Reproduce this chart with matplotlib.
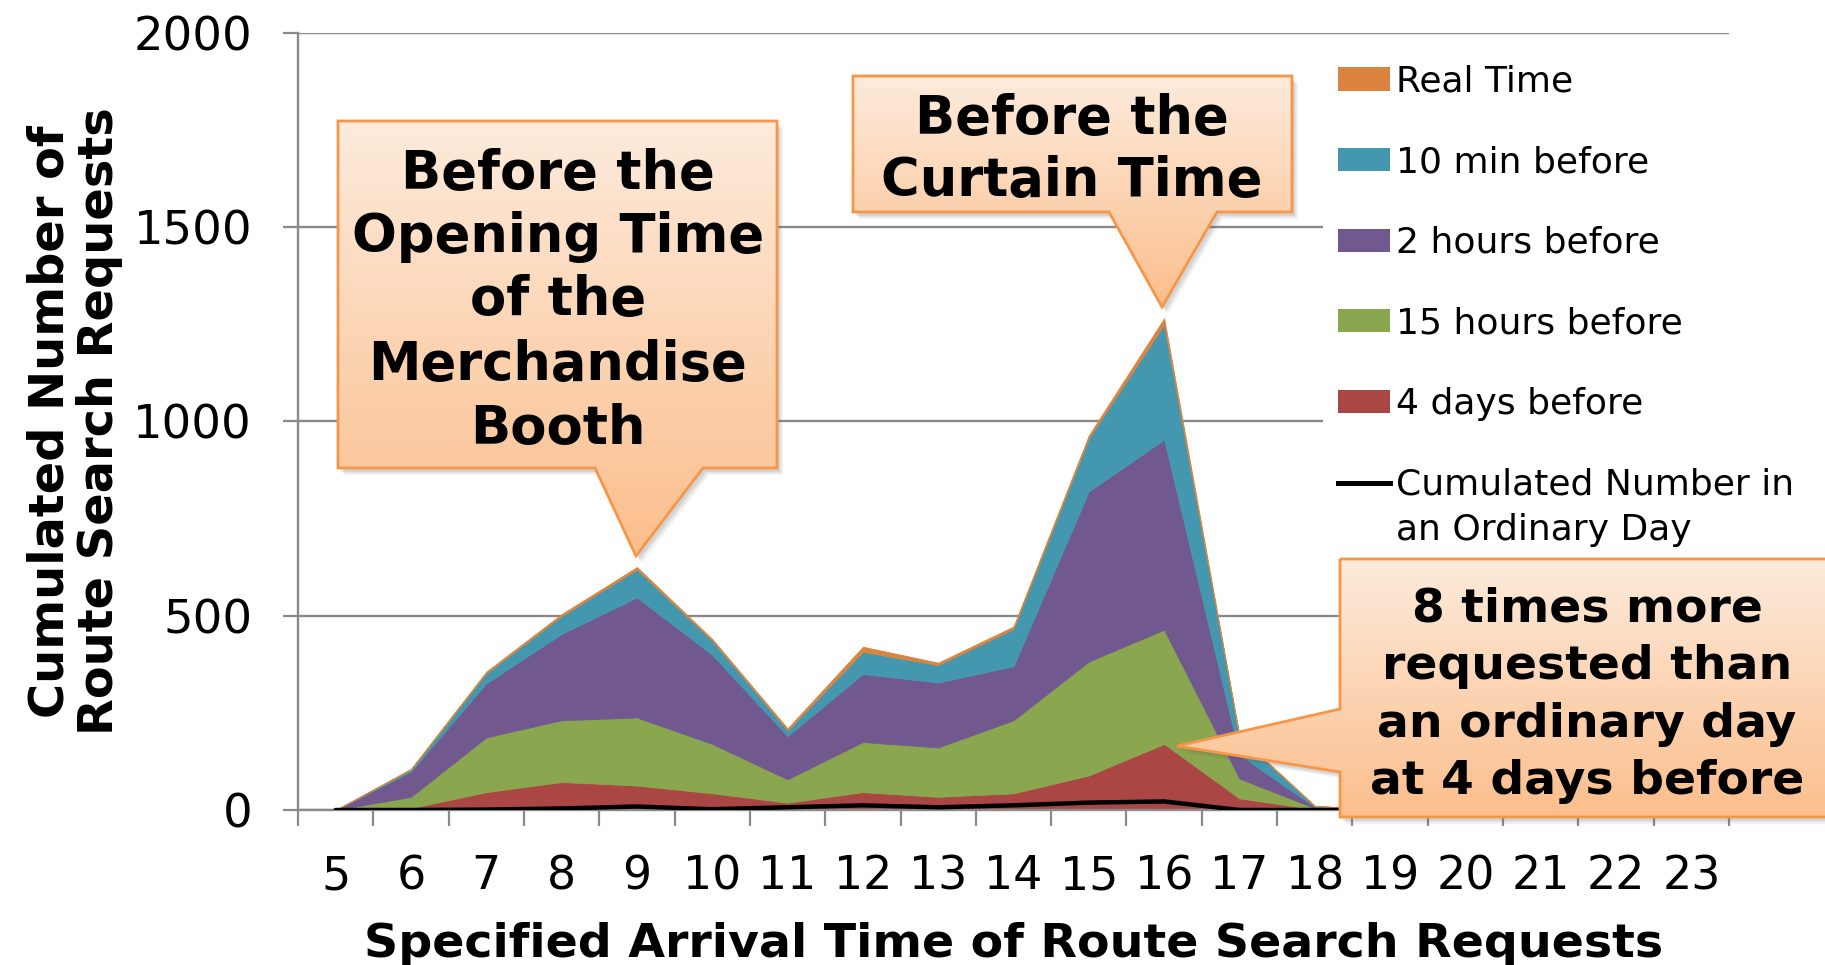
import numpy as np
import matplotlib
matplotlib.use("Agg")
import matplotlib.pyplot as plt
from matplotlib import font_manager as fm
from matplotlib.patches import Patch, Polygon
from matplotlib.lines import Line2D
from matplotlib.legend_handler import HandlerLine2D
from matplotlib.colors import LinearSegmentedColormap

# ---------------- data ----------------
hours = [5, 6, 7, 8, 9, 10, 11, 12, 13, 14, 15, 16, 17, 18, 19, 20, 21, 22, 23]
four_days     = [0, 5, 46, 72, 63, 43, 19, 46, 34, 43, 89, 170, 30, 2, 0, 0, 0, 0, 0]
fifteen_hours = [0, 29, 141, 159, 175, 127, 60, 129, 127, 188, 293, 294, 51, 3, 0, 0, 0, 0, 0]
two_hours     = [0, 65, 139, 222, 309, 229, 111, 175, 167, 139, 438, 489, 61, 3, 0, 0, 0, 0, 0]
ten_min       = [0, 5, 26, 46, 72, 37, 15, 57, 45, 96, 137, 296, 46, 2, 0, 0, 0, 0, 0]
real_time     = [0, 2, 4, 5, 6, 4, 5, 13, 6, 6, 7, 16, 2, 1, 0, 0, 0, 0, 0]
ordinary_day  = [0, 0, 1, 4, 9, 2, 7, 12, 7, 12, 19, 22, 0, 0, 0, 0, 0, 0, 0]

series_labels = ["4 days before", "15 hours before", "2 hours before",
                 "10 min before", "Real Time"]
series_colors = ["#AA4644", "#8AA64E", "#71588F", "#4398AF", "#DA843F"]
line_label = "Cumulated Number in\nan Ordinary Day"
y_ticks = [0, 500, 1000, 1500, 2000]

# ---------------- fonts ----------------
_names = {f.name for f in fm.fontManager.ttflist}
MAIN = "DejaVu Sans"
if "Liberation Sans Narrow" in _names:
    NARROW = "Liberation Sans Narrow"
    XTICK_SIZE, XLABEL_SIZE, YLABEL_SIZE, YLABEL_LS = 39, 45, 44, 0.86
else:
    NARROW = MAIN
    XTICK_SIZE, XLABEL_SIZE, YLABEL_SIZE, YLABEL_LS = 33, 34.2, 34.5, 1.05

W, H = 1825, 965
fig = plt.figure(figsize=(W / 100, H / 100), dpi=100)
L, R, B, T = 298, 1729, 810, 32.6
ax = fig.add_axes([L / W, 1 - B / H, (R - L) / W, (B - T) / H])

polys = ax.stackplot(hours, four_days, fifteen_hours, two_hours, ten_min, real_time,
                     colors=series_colors, linewidth=0.6, zorder=2)
for p, c in zip(polys, series_colors):
    p.set_edgecolor(c)
ax.plot(hours, ordinary_day, color="black", lw=3.2, zorder=3, solid_capstyle="round")

ax.set_xlim(4.5, 23.5)
ax.set_ylim(0, 2000)
ax.set_yticks(y_ticks)
ax.set_yticklabels([str(v) for v in y_ticks], fontfamily=MAIN, fontsize=33.5)
ax.set_xticks(hours)
ax.set_xticklabels([str(h) for h in hours], fontfamily=NARROW, fontsize=XTICK_SIZE)
ax.set_xticks([h - 0.5 for h in hours] + [hours[-1] + 0.5], minor=True)

grid_c = "#8A8A8A"
ax.yaxis.grid(True, color=grid_c, lw=1.7)
ax.set_axisbelow(True)
ax.tick_params(axis="x", which="major", length=0, pad=32)
ax.tick_params(axis="x", which="minor", length=11.5, width=1.6, color=grid_c, direction="out")
ax.tick_params(axis="y", which="major", length=11, width=1.6, color=grid_c, pad=22)
for s in ["top", "right"]:
    ax.spines[s].set_visible(False)
for s in ["left", "bottom"]:
    ax.spines[s].set_color(grid_c)
    ax.spines[s].set_linewidth(1.7)

ax.set_xlabel("Specified Arrival Time of Route Search Requests", fontfamily=NARROW,
              fontweight="bold", fontsize=XLABEL_SIZE)
ax.xaxis.set_label_coords(0.5, -0.144)
ax.set_ylabel("Cumulated Number of\nRoute Search Requests", fontfamily=NARROW,
              fontweight="bold", fontsize=YLABEL_SIZE, linespacing=YLABEL_LS)
ax.yaxis.set_label_coords(-0.1225, 0.5)


# ---------------- legend ----------------
class UpperLineHandler(HandlerLine2D):
    def create_artists(self, legend, orig_handle, xdescent, ydescent, width, height,
                       fontsize, trans):
        arts = super().create_artists(legend, orig_handle, xdescent, ydescent, width,
                                      height, fontsize, trans)
        for a in arts:
            if hasattr(a, "get_ydata"):
                a.set_ydata(np.asarray(a.get_ydata(), dtype=float) + 0.72 * fontsize)
        return arts


handles = [Patch(facecolor=c, edgecolor="none") for c in series_colors[::-1]]
labels = series_labels[::-1]
line_handle = Line2D([], [], color="black", lw=3.6)
handles.append(line_handle)
labels.append(line_label)
leg = ax.legend(handles, labels, loc="upper left",
                bbox_to_anchor=(1323 / W, 1 - 49.5 / H), bbox_transform=fig.transFigure,
                borderaxespad=0, borderpad=0.42, frameon=True, facecolor="white",
                edgecolor="none", framealpha=1, fancybox=False,
                prop={"family": MAIN, "size": 26}, labelspacing=1.29,
                handlelength=1.44, handleheight=0.61, handletextpad=0.17,
                handler_map={line_handle: UpperLineHandler()})
leg.get_texts()[-1].set_linespacing(1.42)
leg.set_zorder(5)

# ---------------- callouts (overlay in pixel coordinates) ----------------
ov = fig.add_axes([0, 0, 1, 1], zorder=20)
ov.set_axis_off()
ov.patch.set_alpha(0)

top_c = (253 / 255, 235 / 255, 220 / 255)
bot_c = (251 / 255, 190 / 255, 140 / 255)
cmap = LinearSegmentedColormap.from_list("peach", [top_c, bot_c])


def callout(verts, lines, xc, baselines, size):
    xs = [v[0] for v in verts]
    ys = [v[1] for v in verts]
    for dx, dy, a in [(6, 7, 0.07), (4.5, 5.5, 0.09), (3, 4, 0.12)]:
        ov.add_patch(Polygon([(x + dx, y + dy) for x, y in verts], closed=True,
                             fc="#606060", ec="none", alpha=a, zorder=1))
    poly = Polygon(verts, closed=True, fc="none", ec="#F79646", lw=2.0, zorder=3,
                   joinstyle="miter")
    ov.add_patch(poly)
    grad = np.linspace(0, 1, 256)[:, None]
    im = ov.imshow(grad, cmap=cmap, extent=(min(xs), max(xs), max(ys), min(ys)),
                   aspect="auto", origin="upper", zorder=2, interpolation="bilinear")
    im.set_clip_path(poly)
    for txt, yb in zip(lines, baselines):
        ov.text(xc, yb, txt, ha="center", va="baseline", fontfamily=MAIN,
                fontweight="bold", fontsize=size, zorder=4)


callout([(338, 121), (777, 121), (777, 468), (703, 468), (636, 556), (595, 468), (338, 468)],
        ["Before the", "Opening Time", "of the", "Merchandise", "Booth"],
        558, [189, 252, 315, 380, 444], 38)
callout([(853, 76), (1292, 76), (1292, 212), (1217, 212), (1162, 307), (1109, 212), (853, 212)],
        ["Before the", "Curtain Time"], 1072, [134, 196], 38)
callout([(1340, 559), (1850, 559), (1850, 817), (1340, 817), (1340, 772), (1177, 746), (1340, 709)],
        ["8 times more", "requested than", "an ordinary day", "at 4 days before"],
        1587, [621, 679, 737, 794], 34)

ov.set_xlim(0, W)
ov.set_ylim(H, 0)

fig.savefig("out.png", dpi=100)
